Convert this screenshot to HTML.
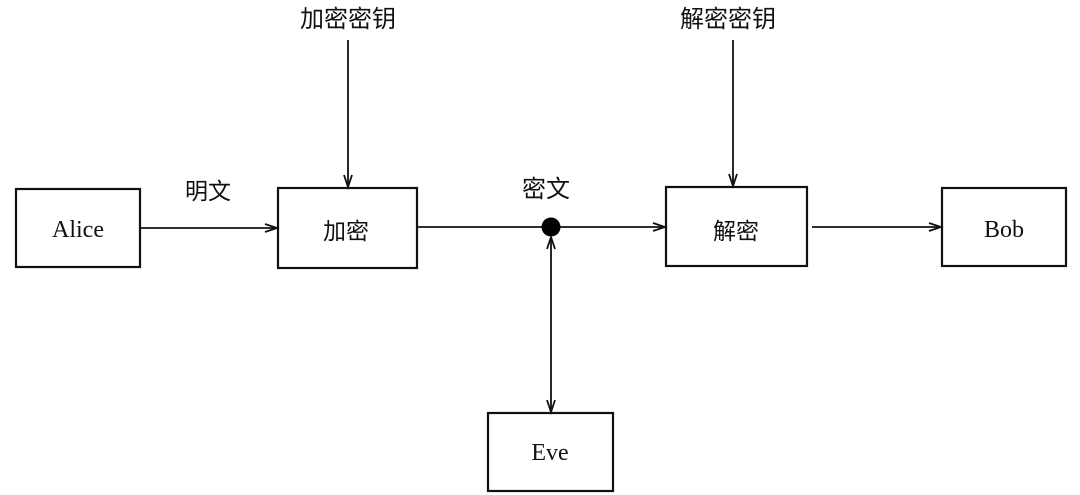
<!DOCTYPE html>
<html><head><meta charset="utf-8">
<style>
html,body{margin:0;padding:0;background:#fff;}
svg{display:block;}
.cn{font-family:"Liberation Sans","Noto Sans CJK SC",sans-serif;}
.en{font-family:"Liberation Serif",serif;}
</style></head>
<body>
<svg width="1080" height="495" viewBox="0 0 1080 495" xmlns="http://www.w3.org/2000/svg">
<rect width="1080" height="495" fill="#fff"/>
<g fill="none" stroke="#111" stroke-width="2.2">
  <rect x="16" y="189" width="124" height="78"/>
  <rect x="278" y="188" width="139" height="80"/>
  <rect x="666" y="187" width="141" height="79"/>
  <rect x="942" y="188" width="124" height="78"/>
  <rect x="488" y="413" width="125" height="78"/>
</g>
<g fill="none" stroke="#111" stroke-width="1.8">
  <line x1="140" y1="228" x2="277" y2="228"/>
  <polyline points="265,224 277,228 265,232"/>
  <line x1="417" y1="227" x2="665" y2="227"/>
  <polyline points="653,223 665,227 653,231"/>
  <line x1="812" y1="227" x2="941" y2="227"/>
  <polyline points="929,223 941,227 929,231"/>
  <line x1="348" y1="40" x2="348" y2="187"/>
  <polyline points="344,175 348,187 352,175"/>
  <line x1="733" y1="40" x2="733" y2="186"/>
  <polyline points="729,174 733,186 737,174"/>
  <line x1="551" y1="237" x2="551" y2="412"/>
  <polyline points="547,249 551,237 555,249"/>
  <polyline points="547,400 551,412 555,400"/>
</g>
<circle cx="551" cy="227" r="9.5" fill="#000"/>
<g class="cn" fill="#111" font-size="24" text-anchor="middle">
  <text x="348" y="27">加密密钥</text>
  <text x="728" y="27">解密密钥</text>
  <text x="208" y="199" font-size="23">明文</text>
  <text x="546" y="197">密文</text>
  <text x="346" y="239" font-size="23">加密</text>
  <text x="736" y="239" font-size="23">解密</text>
</g>
<g class="en" fill="#111" font-size="24" text-anchor="middle">
  <text x="78" y="237">Alice</text>
  <text x="1004" y="237">Bob</text>
  <text x="550" y="460">Eve</text>
</g>
</svg>
</body></html>
